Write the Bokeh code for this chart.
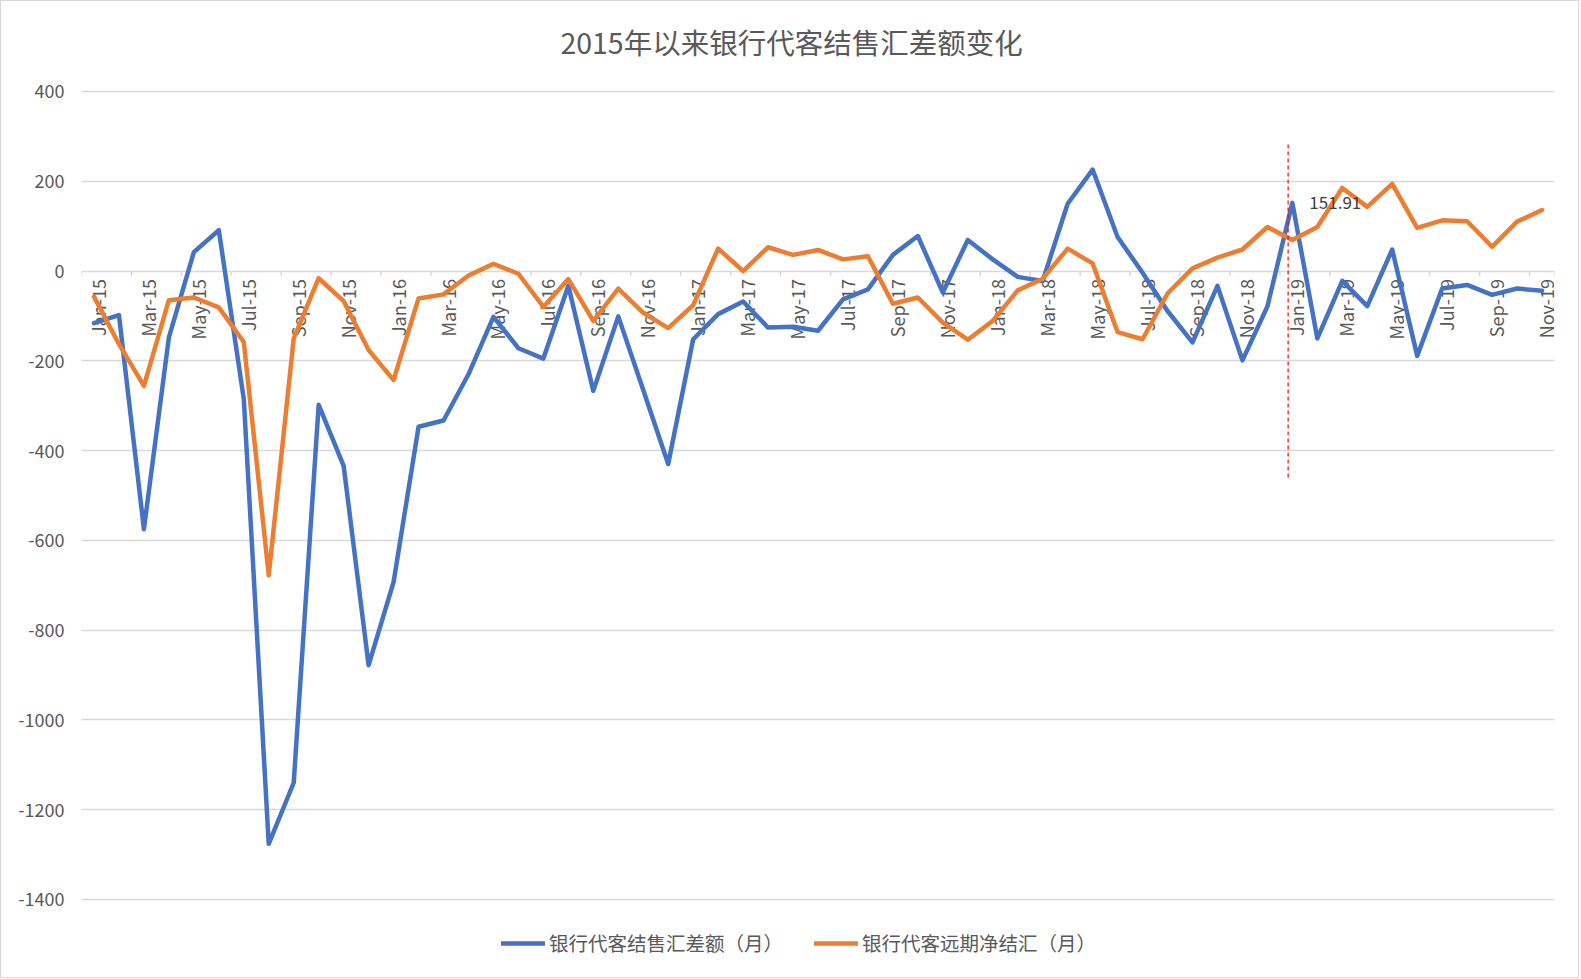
import numpy as np
from bokeh.plotting import figure
from bokeh.models import (Range1d, ColumnDataSource, Legend, LegendItem, Label,
                          FixedTicker, NumeralTickFormatter)
from bokeh.core.properties import value
from bokeh.embed import file_html
from bokeh.resources import INLINE

# ---------------- data ----------------
month_names = ["Jan", "Feb", "Mar", "Apr", "May", "Jun",
               "Jul", "Aug", "Sep", "Oct", "Nov", "Dec"]
years = ["15", "16", "17", "18", "19"]
months = [f"{m}-{y}" for y in years for m in month_names][:59]

# 银行代客结售汇差额（月）
settle_balance = [
    -116, -98, -575, -148, 42, 91, -285, -1276, -1140, -298, -434, -878,
    -693, -347, -333, -230, -102, -172, -195, -33, -267, -101, -265, -430,
    -152, -96, -68, -126, -124, -133, -63, -41, 36, 78, -48, 69,
    26, -13, -22, 150, 226, 76, -4, -89, -159, -33, -199, -79,
    151.91, -150, -22, -78, 48, -189, -39, -31, -53, -39, -44,
]
# 银行代客远期净结汇（月）
forward_net = [
    -57, -163, -256, -65, -59, -81, -158, -678, -150, -16, -67, -176,
    -243, -61, -52, -10, 16, -6, -80, -18, -111, -39, -93, -127,
    -76, 50, 0, 53, 36, 47, 26, 33, -73, -59, -115, -153,
    -111, -43, -17, 50, 17, -136, -152, -50, 6, 30, 48, 98,
    69, 98, 185, 143, 194, 96, 113, 111, 54, 110, 136,
]
y_ticks = [-1400, -1200, -1000, -800, -600, -400, -200, 0, 200, 400]
series_names = ["银行代客结售汇差额（月）", "银行代客远期净结汇（月）"]
title_text = "2015年以来银行代客结售汇差额变化"

# annotation: highlighted month (Jan-19) and its value label
highlight_idx = months.index("Jan-19")
highlight_line_x = highlight_idx - 0.17
highlight_line_y = (282, -460)

# ---------------- figure ----------------
CJK = "Noto Sans CJK SC"
GREY = "#595959"

x = list(range(len(months)))
src = ColumnDataSource(dict(x=x, blue=settle_balance, orange=forward_net))

# the frame extends beyond the tick range: title room above, legend room below
y_top_pad = 196.0
y_bottom_pad = 149.3

p = figure(width=1579, height=978, output_backend="svg", toolbar_location=None,
           x_range=Range1d(-0.5, len(months) - 0.5),
           y_range=Range1d(min(y_ticks) - y_bottom_pad, max(y_ticks) + y_top_pad),
           x_axis_location=None,
           min_border_left=80, min_border_right=26,
           min_border_top=2, min_border_bottom=13)
p.styles = {"border": "1.5px solid #d9d9d9", "box-sizing": "border-box"}

p.outline_line_color = None
p.background_fill_color = "white"
p.border_fill_color = "white"

# chart title, centred on the whole chart area (Excel style)
title_center_x = 27.94
p.add_layout(Label(x=title_center_x, y=max(y_ticks), text=title_text,
                   y_offset=50, text_align="center", text_baseline="middle",
                   text_font=CJK, text_font_size="28.5px", text_color=GREY))

p.xgrid.visible = False
p.yaxis.ticker = FixedTicker(ticks=y_ticks)
p.yaxis.formatter = NumeralTickFormatter(format="0")
p.ygrid.ticker = FixedTicker(ticks=y_ticks)
p.ygrid.grid_line_color = "#d9d9d9"
p.ygrid.grid_line_width = 1.5
p.yaxis.axis_line_color = None
p.yaxis.major_tick_line_color = None
p.yaxis.minor_tick_line_color = None
p.yaxis.major_label_text_font = CJK
p.yaxis.major_label_text_font_size = "18px"
p.yaxis.major_label_text_color = GREY
p.yaxis.major_label_standoff = 11

# category tick marks along the zero line (every two months)
tick_pos = [i - 0.5 for i in range(0, len(months), 2)] + [len(months) - 0.5]
p.segment(x0=tick_pos, y0=[0] * len(tick_pos), x1=tick_pos,
          y1=[-11] * len(tick_pos), line_color="#d9d9d9", line_width=1.5)

# category labels (every other month), rotated, hanging below zero line
lab_x = x[::2]
lab_txt = months[::2]
p.text(x=lab_x, y=[0] * len(lab_x), text=lab_txt, angle=np.pi / 2,
       text_align="right", text_baseline="middle", x_offset=4, y_offset=8,
       text_font=value(CJK), text_font_size="18px", text_color=GREY)

r_blue = p.line("x", "blue", source=src, line_color="#4472C4", line_width=4.5,
                line_join="round", line_cap="round")
r_orange = p.line("x", "orange", source=src, line_color="#ED7D31", line_width=4.5,
                  line_join="round", line_cap="round")

# red dashed vertical marker
p.segment(x0=[highlight_line_x], y0=[highlight_line_y[0]],
          x1=[highlight_line_x], y1=[highlight_line_y[1]],
          line_color="#ff0000", line_width=1.2, line_dash="4 3")

p.add_layout(Label(x=highlight_idx, y=settle_balance[highlight_idx],
                   text=f"{settle_balance[highlight_idx]:.2f}",
                   x_offset=17, text_baseline="middle", text_align="left",
                   text_font=CJK, text_font_size="17px", text_color="#404040"))

legend = Legend(items=[LegendItem(label=series_names[0], renderers=[r_blue]),
                       LegendItem(label=series_names[1], renderers=[r_orange])],
                orientation="horizontal", location=(420, 9),
                label_text_font=CJK, label_text_font_size="19.5px",
                label_text_color=GREY, glyph_width=44, glyph_height=20,
                label_standoff=4, spacing=31, padding=4, margin=0,
                border_line_color=None, background_fill_alpha=0)
p.add_layout(legend)

open("out.html", "w").write(file_html(p, INLINE))
